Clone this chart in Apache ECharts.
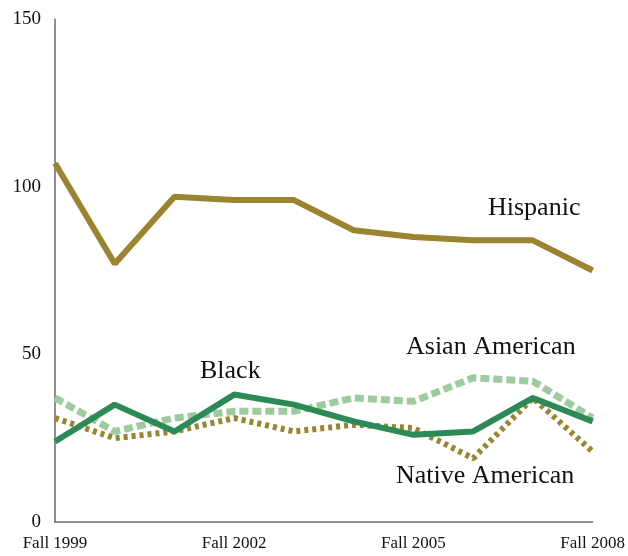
<!DOCTYPE html>
<html>
<head>
<meta charset="utf-8">
<script src="https://cdn.jsdelivr.net/npm/echarts@6/dist/echarts.min.js"></script>
<style>
  html, body { margin: 0; padding: 0; background: #fff; }
  #container { width: 628px; height: 556px; }
</style>
</head>
<body>
<div id="container"></div>
<script>
var years = ['Fall 1999', 'Fall 2000', 'Fall 2001', 'Fall 2002', 'Fall 2003',
             'Fall 2004', 'Fall 2005', 'Fall 2006', 'Fall 2007', 'Fall 2008'];
var hispanic = [107, 77, 97, 96, 96, 87, 85, 84, 84, 75];
var black = [24, 35, 27, 38, 35, 30, 26, 27, 37, 30];
var asianAmerican = [37, 27, 31, 33, 33, 37, 36, 43, 42, 31];
var nativeAmerican = [31, 25, 27, 31, 27, 29, 28, 19, 37, 21];
var yTicks = [0, 50, 100, 150];

var serif = '"Liberation Serif", "DejaVu Serif", serif';
var gold = '#9b8431';

window.onload = function () {
    var chart = echarts.init(document.getElementById('container'));
    var option = {
        backgroundColor: '#fff',
        animation: false,
        grid: { left: 55, right: 32, top: 19, bottom: 34 },
        xAxis: {
            type: 'category',
            data: years,
            boundaryGap: false,
            axisLine: { lineStyle: { color: '#6b6b6b', width: 1.5 } },
            axisTick: { show: false },
            axisLabel: {
                interval: 2,
                margin: 13,
                color: '#111',
                fontFamily: serif,
                fontSize: 17
            }
        },
        yAxis: {
            type: 'value',
            min: 0,
            max: 150,
            interval: 50,
            axisLine: { show: true, lineStyle: { color: '#6b6b6b', width: 1.5 } },
            axisTick: { show: false },
            splitLine: { show: false },
            axisLabel: {
                margin: 14,
                color: '#111',
                fontFamily: serif,
                fontSize: 19,
                formatter: function (v) { return yTicks.indexOf(v) >= 0 ? v : ''; }
            }
        },
        series: [
            {
                name: 'Hispanic', type: 'line', data: hispanic, symbol: 'none', z: 2,
                lineStyle: { color: gold, width: 6 }
            },
            {
                name: 'Asian American', type: 'line', data: asianAmerican, symbol: 'none', z: 3,
                lineStyle: { color: '#9dcb9d', width: 7, type: [9, 4] }
            },
            {
                name: 'Native American', type: 'line', data: nativeAmerican, symbol: 'none', z: 4,
                lineStyle: { color: gold, width: 6, type: [4, 4] }
            },
            {
                name: 'Black', type: 'line', data: black, symbol: 'none', z: 5,
                lineStyle: { color: '#2b8a55', width: 6 }
            }
        ],
        graphic: [
            { type: 'text', left: 488, top: 195, style: { text: 'Hispanic', font: '26px ' + serif, fill: '#111' } },
            { type: 'text', left: 406, top: 334, style: { text: 'Asian American', font: '26px ' + serif, fill: '#111' } },
            { type: 'text', left: 200, top: 358, style: { text: 'Black', font: '26px ' + serif, fill: '#111' } },
            { type: 'text', left: 396, top: 463, style: { text: 'Native American', font: '26px ' + serif, fill: '#111' } }
        ]
    };
    chart.setOption(option);
};
</script>
</body>
</html>
